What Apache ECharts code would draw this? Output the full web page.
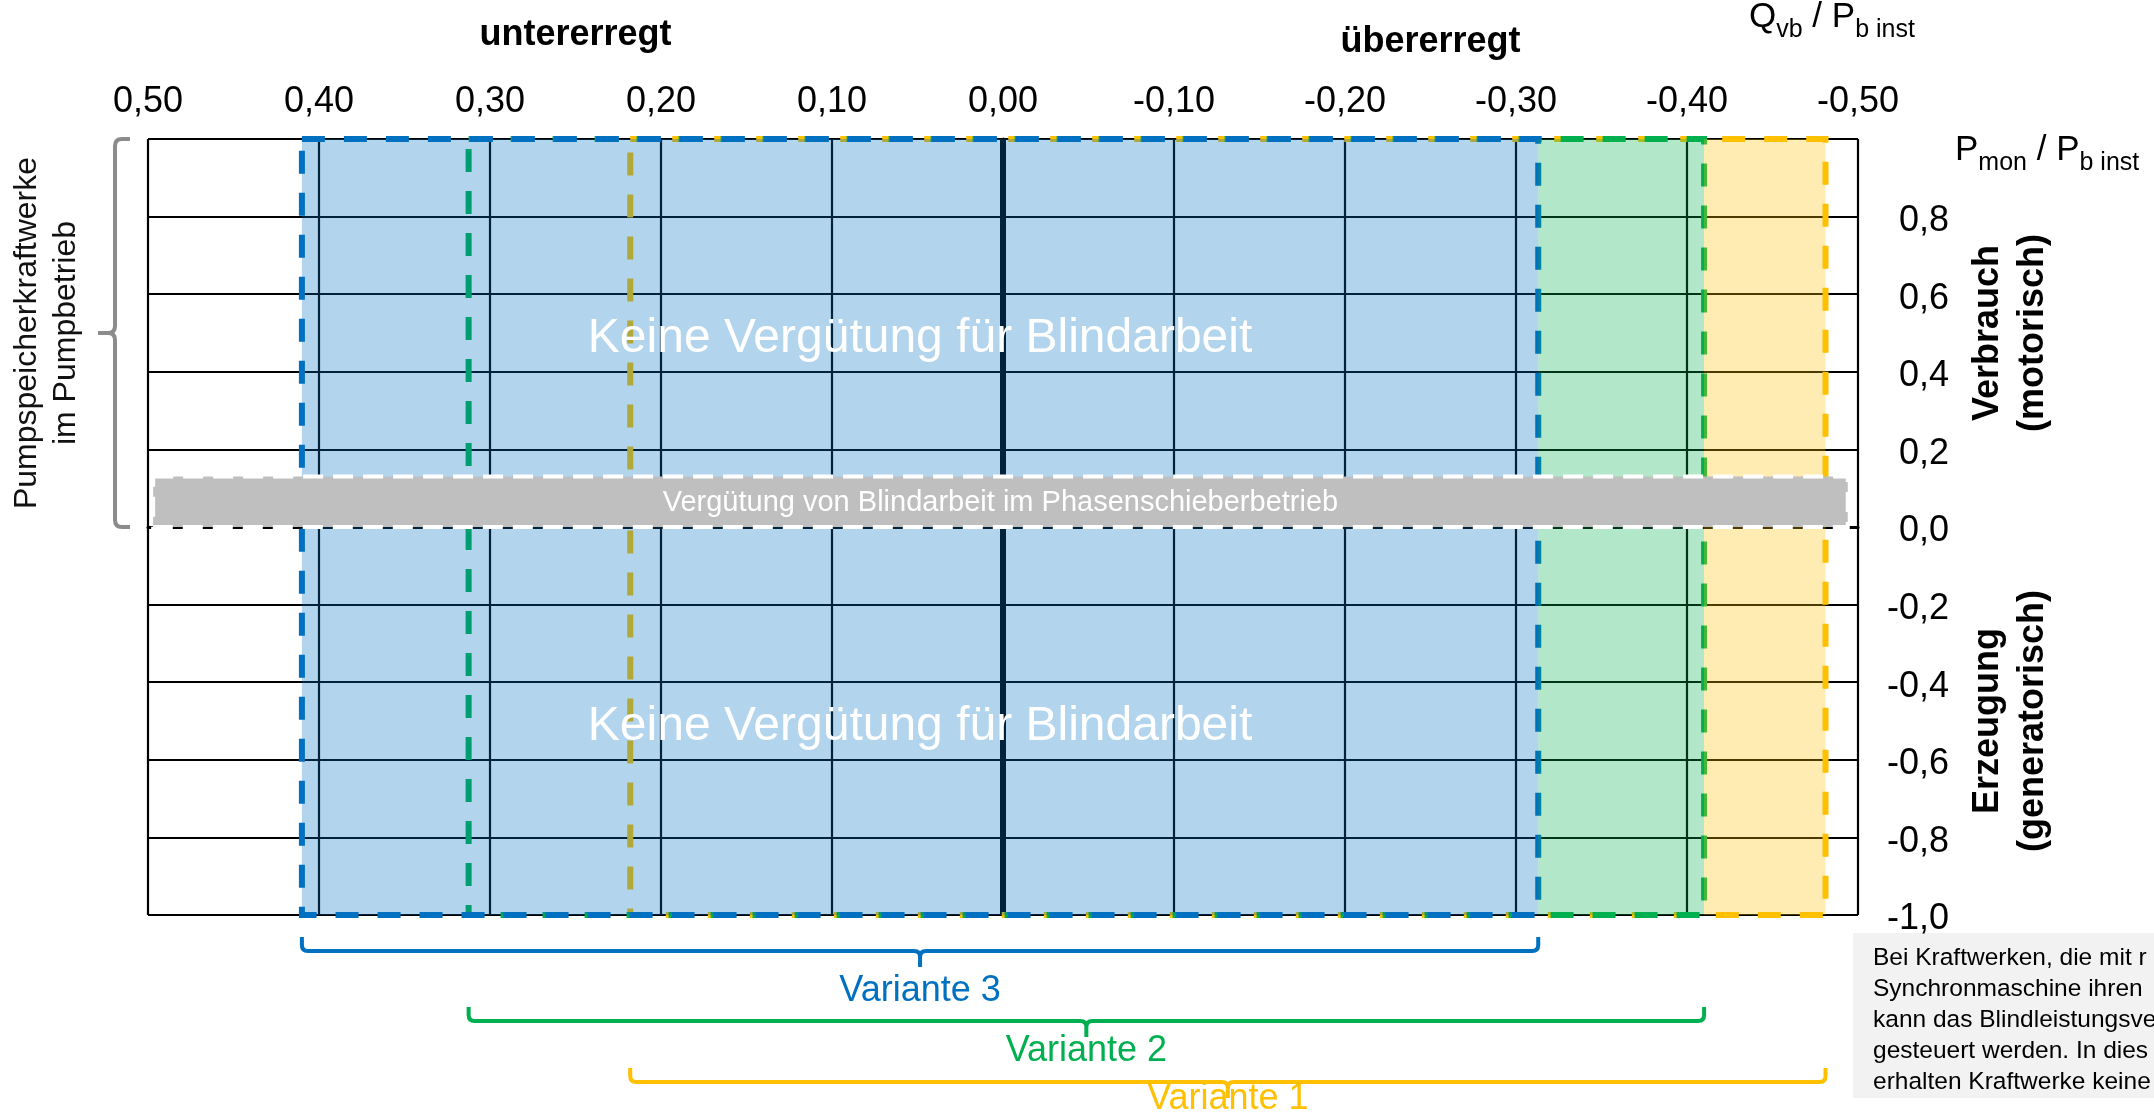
<!DOCTYPE html>
<html><head><meta charset="utf-8">
<script src="https://cdn.jsdelivr.net/npm/echarts@6/dist/echarts.min.js"></script>
<style>html,body{margin:0;padding:0;background:#fff;overflow:hidden}#c{width:2154px;height:1117px}</style>
</head><body><div id="c"></div>
<script>
const FONT = "'Liberation Sans', Arial, Helvetica, sans-serif";
// Axes
const xRange = [-0.5, 0.5];
const xStep = 0.1;
const yRange = [-1, 1];
const yStep = 0.2;
// Variants (from untererregt side to übererregt side, Q/Pb inst)
const variantNames = ['Variante 3', 'Variante 2', 'Variante 1'];
const variantFrom = [0.41, 0.3125, 0.218];
const variantTo = [-0.313, -0.41, -0.481];
// Phase shifter band
const bandX = [0.497, -0.494];
const bandY = [0, 0.13];
const bandLabel = 'Vergütung von Blindarbeit im Phasenschieberbetrieb';
// Notes
const noteLabel = 'Keine Vergütung für Blindarbeit';
const noteY = [0.5, -0.5];
// Side annotations
const pumpRange = [1, 0];
const pumpLabel = 'Pumpspeicherkraftwerke\nim Pumpbetrieb';
const quadrantLabels = ['Verbrauch\n(motorisch)', 'Erzeugung\n(generatorisch)'];
const quadrantY = [0.5, -0.5];
const topLabels = ['untererregt', 'übererregt'];
const topLabelX = [0.25, -0.25];
const infoLines = [
  'Bei Kraftwerken, die mit r',
  'Synchronmaschine ihren',
  'kann das Blindleistungsve',
  'gesteuert werden. In dies',
  'erhalten Kraftwerke keine'
];

// styles
const variantColors = ['#0070c0', '#00b050', '#ffc000'];
const fillColors = ['rgba(0,112,192,0.3)', 'rgba(0,176,80,0.3)', 'rgba(255,192,0,0.3)'];
const bracketTop = [22, 92, 153];
const bracketLabelOff = [76, 136, 184];

function fmt(v, d) {
  if (Math.abs(v) < 1e-9) v = 0;
  return v.toFixed(d).replace('.', ',');
}

const chart = echarts.init(document.getElementById('c'), null, {width: 2154, height: 1117});

const fillFrom = [variantFrom[0], variantTo[0], variantTo[1]];
const fillTo = variantTo;

const option = {
  animation: false,
  backgroundColor: '#fff',
  textStyle: {fontFamily: FONT},
  grid: {left: 148, right: 296, top: 139, bottom: 202, containLabel: false},
  xAxis: {
    type: 'value', position: 'top', inverse: true,
    min: xRange[0], max: xRange[1], interval: xStep,
    axisLine: {show: true, lineStyle: {color: '#000', width: 3}},
    axisTick: {show: false},
    axisLabel: {fontSize: 36, color: '#000', fontFamily: FONT, margin: 19, formatter: v => fmt(v, 2)},
    splitLine: {show: true, lineStyle: {color: '#000', width: 2.2}}
  },
  yAxis: {
    type: 'value', position: 'right',
    min: yRange[0], max: yRange[1], interval: yStep,
    axisLine: {show: true, lineStyle: {color: '#000', width: 3}},
    axisTick: {show: false},
    axisLabel: {fontSize: 36, color: '#000', fontFamily: FONT, margin: 91, align: 'right',
      verticalAlign: 'top', lineHeight: 9,
      formatter: v => Math.abs(v - yRange[1]) < 1e-9 ? '' : fmt(v, 1)},
    splitLine: {show: true, lineStyle: {color: '#000', width: 2.2}}
  },
  series: [
    { // zero reactive power line
      type: 'custom', silent: true, z: 2,
      data: [[0, 0]],
      renderItem: (p, api) => {
        const a = api.coord([0, yRange[1]]), b = api.coord([0, yRange[0]]);
        return {type: 'line', shape: {x1: a[0], y1: a[1], x2: b[0], y2: b[1]}, style: {stroke: '#000', lineWidth: 6}};
      }
    },
    { // dashed variant frames
      type: 'custom', silent: true, z: 3,
      data: [2, 1, 0].map(i => [variantFrom[i], variantTo[i], i]),
      renderItem: (p, api) => {
        const i = api.value(2);
        const a = api.coord([api.value(0), yRange[1]]), b = api.coord([api.value(1), yRange[0]]);
        return {type: 'rect', shape: {x: a[0], y: a[1], width: b[0] - a[0], height: b[1] - a[1]},
          style: {fill: 'none', stroke: variantColors[i], lineWidth: 6, lineDash: [23, 19]}};
      }
    },
    { // translucent fills
      type: 'custom', silent: true, z: 4,
      data: [0, 1, 2].map(k => [fillFrom[k], fillTo[k], k]),
      renderItem: (p, api) => {
        const k = api.value(2);
        const a = api.coord([api.value(0), yRange[1]]), b = api.coord([api.value(1), yRange[0]]);
        return {type: 'rect', shape: {x: a[0], y: a[1], width: b[0] - a[0], height: b[1] - a[1]},
          style: {fill: fillColors[k]}};
      }
    },
    { // phase shifter band
      type: 'custom', silent: true, z: 5,
      data: [[bandX[0], bandY[1]]],
      renderItem: (p, api) => {
        const a = api.coord([bandX[0], bandY[1]]), b = api.coord([bandX[1], bandY[0]]);
        const c = api.coord([(bandX[0] + bandX[1]) / 2, (bandY[0] + bandY[1]) / 2]);
        return {type: 'group', children: [
          {type: 'rect', shape: {x: a[0], y: a[1], width: b[0] - a[0], height: b[1] - a[1]},
            style: {fill: '#bfbfbf', stroke: '#fff', lineWidth: 4, lineDash: [20, 10]}},
          {type: 'text', x: c[0], y: c[1] + 1, style: {text: bandLabel, fill: '#fff', fontSize: 29, fontFamily: FONT, align: 'center', verticalAlign: 'middle'}}
        ]};
      }
    },
    { // notes
      type: 'custom', silent: true, z: 6,
      data: noteY.map(y => [(variantFrom[0] + variantTo[0]) / 2, y]),
      renderItem: (p, api) => {
        const c = api.coord([api.value(0), api.value(1)]);
        return {type: 'text', x: c[0], y: c[1] + 6, style: {text: noteLabel, fill: '#fff', fontSize: 48, fontFamily: FONT, align: 'center', verticalAlign: 'middle'}};
      }
    },
    { // variant brackets below the chart
      type: 'custom', silent: true, z: 6, clip: false,
      data: [0, 1, 2].map(i => [variantFrom[i], variantTo[i], i]),
      renderItem: (p, api) => {
        const i = api.value(2);
        const x1 = api.coord([api.value(0), 0])[0], x2 = api.coord([api.value(1), 0])[0];
        const base = api.coord([0, yRange[0]])[1];
        const yt = base + bracketTop[i], yh = yt + 14, tick = yh + 16, r = 6;
        const xc = (x1 + x2) / 2;
        const d = `M${x1} ${yt} L${x1} ${yh - r} Q${x1} ${yh} ${x1 + r} ${yh} L${xc - r} ${yh} Q${xc} ${yh} ${xc} ${yh + r} L${xc} ${tick} ` +
          `M${xc} ${yh + r} Q${xc} ${yh} ${xc + r} ${yh} L${x2 - r} ${yh} Q${x2} ${yh} ${x2} ${yh - r} L${x2} ${yt}`;
        return {type: 'group', children: [
          {type: 'path', shape: {pathData: d}, style: {fill: 'none', stroke: variantColors[i], lineWidth: 4}},
          {type: 'text', x: xc, y: base + bracketLabelOff[i], style: {text: variantNames[i], fill: variantColors[i], fontSize: 36, fontFamily: FONT, align: 'center', verticalAlign: 'middle'}}
        ]};
      }
    },
    { // pump bracket on the left
      type: 'custom', silent: true, z: 6, clip: false,
      data: [[xRange[1], pumpRange[0]]],
      renderItem: (p, api) => {
        const left = api.coord([xRange[1], 0])[0];
        const y1 = api.coord([0, pumpRange[0]])[1], y2 = api.coord([0, pumpRange[1]])[1];
        const x = left - 33, xe = left - 18, xm = left - 50, ym = (y1 + y2) / 2, r = 7;
        const d = `M${xe} ${y1} L${x + r} ${y1} Q${x} ${y1} ${x} ${y1 + r} L${x} ${ym - r} Q${x} ${ym} ${x - r} ${ym} L${xm} ${ym} ` +
          `M${x - r} ${ym} Q${x} ${ym} ${x} ${ym + r} L${x} ${y2 - r} Q${x} ${y2} ${x + r} ${y2} L${xe} ${y2}`;
        return {type: 'group', children: [
          {type: 'path', shape: {pathData: d}, style: {fill: 'none', stroke: '#8c8c8c', lineWidth: 4}},
          {type: 'text', x: left - 101, y: ym, rotation: Math.PI / 2,
            style: {text: pumpLabel, fill: '#111', fontSize: 32, lineHeight: 39, fontFamily: FONT, align: 'center', verticalAlign: 'middle'}}
        ]};
      }
    },
    { // top labels
      type: 'custom', silent: true, z: 6, clip: false,
      data: topLabelX.map((x, i) => [x, i]),
      renderItem: (p, api) => {
        const i = p.dataIndex;
        const c = api.coord([api.value(0), yRange[1]]);
        return {type: 'text', x: c[0], y: c[1] - (i === 0 ? 104 : 97),
          style: {text: topLabels[i], fill: '#000', fontSize: 36, fontWeight: 'bold', fontFamily: FONT, align: 'center', verticalAlign: 'middle'}};
      }
    },
    { // quadrant labels on the right
      type: 'custom', silent: true, z: 6, clip: false,
      data: quadrantY.map(y => [xRange[0], y]),
      renderItem: (p, api) => {
        const c = api.coord([xRange[0], api.value(1)]);
        return {type: 'text', x: c[0] + 153, y: c[1], rotation: Math.PI / 2,
          style: {text: quadrantLabels[p.dataIndex], fill: '#000', fontSize: 36, fontWeight: 'bold', lineHeight: 45, fontFamily: FONT, align: 'center', verticalAlign: 'middle'}};
      }
    }
  ],
  graphic: [
    {type: 'text', left: 1749, top: 0, z: 10,
      style: {text: '{m|Q}{s|vb}{m| / P}{s|b inst}', fill: '#000', fontFamily: FONT,
        rich: {m: {fontSize: 35, lineHeight: 50, fontFamily: FONT, fill: '#000'}, s: {fontSize: 25, lineHeight: 25, verticalAlign: 'bottom', fontFamily: FONT, fill: '#000'}}}},
    {type: 'text', left: 1955, top: 133, z: 10,
      style: {text: '{m|P}{s|mon}{m| / P}{s|b inst}', fill: '#000', fontFamily: FONT,
        rich: {m: {fontSize: 35, lineHeight: 50, fontFamily: FONT, fill: '#000'}, s: {fontSize: 25, lineHeight: 25, verticalAlign: 'bottom', fontFamily: FONT, fill: '#000'}}}},
    {type: 'rect', left: 1853, top: 933, z: -1, shape: {width: 301, height: 165}, style: {fill: '#f2f2f2'}},
    {type: 'text', left: 1873, top: 943, z: 10,
      style: {text: infoLines.join('\n'), fill: '#000', fontSize: 24.5, lineHeight: 31, fontFamily: FONT}}
  ]
};
chart.setOption(option);
</script>
</body></html>
